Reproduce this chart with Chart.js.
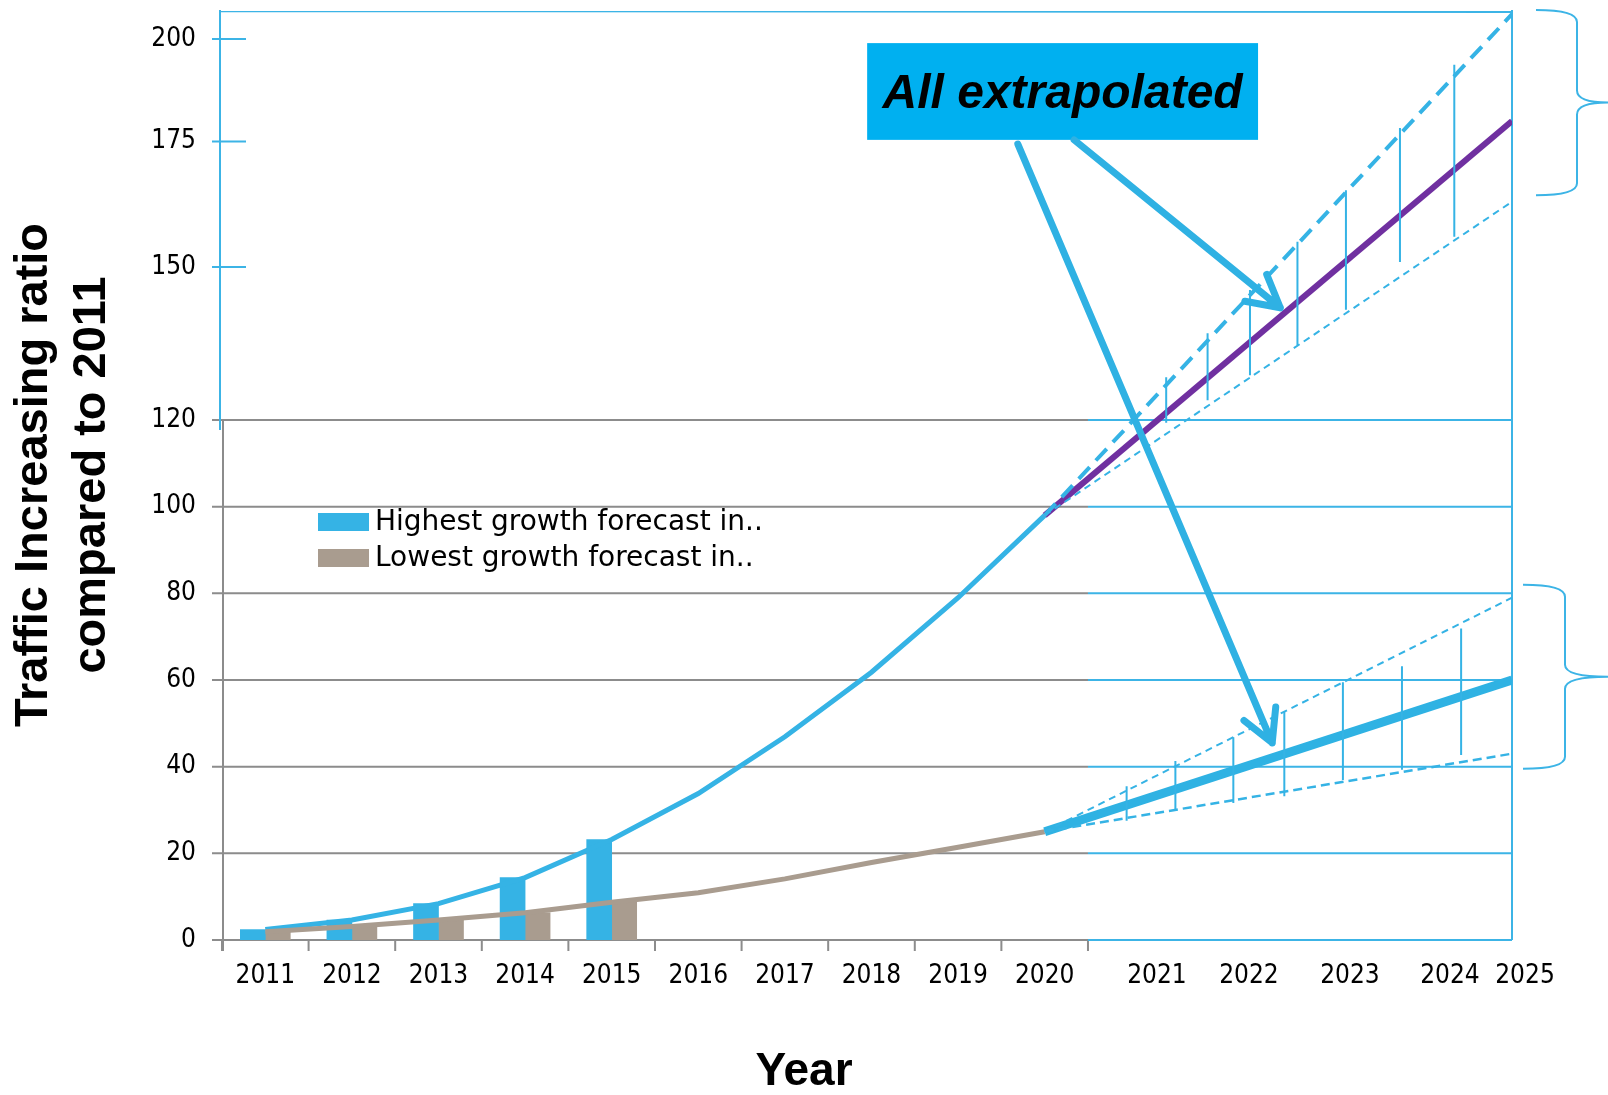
<!DOCTYPE html>
<html>
<head>
<meta charset="UTF-8">
<title>Traffic growth forecast</title>
<script src="https://cdn.jsdelivr.net/npm/chart.js"></script>
<style>
  html, body { margin: 0; padding: 0; background: #ffffff; }
</style>
</head>
<body>
<canvas id="traffic" width="1608" height="1095"></canvas>

<script>
  // measured years and the two forecast curves (ratio vs 2011)
  const years = [2011, 2012, 2013, 2014, 2015, 2016, 2017, 2018, 2019, 2020];
  const highest = [2.4, 4.6, 8.4, 14.4, 23.2, 33.8, 46.9, 61.8, 79, 98];
  const lowest = [1.9, 3.1, 4.6, 6.3, 8.7, 10.9, 14.1, 17.9, 21.4, 25];
  const barYears = [2011, 2012, 2013, 2014, 2015];

  // extrapolation to 2025: upper, central, lower
  const endYear = 2025;
  const highFan = [206, 180, 163];
  const lowFan = [79, 60, 43];

  // hand drawn spread markers inside the fans
  const highMarkX = [2021.1, 2021.55, 2022.01, 2022.48, 2022.96, 2023.5, 2024.07];
  const highMarkTop = [128.4, 137, 145.5, 155, 165.3, 178.3, 193.7];
  const highMarkBottom = [119.4, 123.9, 128.8, 134.7, 141.6, 151, 156];
  const lowMarkX = [2020.78, 2021.2, 2021.83, 2022.35, 2022.93, 2023.52, 2024.18];
  const lowMarkTop = [35.5, 41.3, 46.8, 52.6, 59.5, 63.2, 71.9];
  const lowMarkBottom = [27.5, 29.8, 31.6, 33.2, 36.9, 39.3, 42.7];

  const xTicks = [2011, 2012, 2013, 2014, 2015, 2016, 2017, 2018, 2019, 2020, 2021, 2022, 2023, 2024, 2025];
  const yTicks = [0, 20, 40, 60, 80, 100, 120, 150, 175, 200];

  // callout and arrows, in axis units
  const calloutX = [2017.95, 2022.09];
  const calloutY = [199, 175.4];
  const arrowFrom = [[2020.34, 175.4], [2019.69, 174.5]];
  const arrowTo = [[2022.31, 142], [2022.23, 45.5]];
  const braceSpans = [[207, 164.3], [82, 39.5]];

  const blue = '#35b3e5';
  const frameBlue = '#3cb4e6';
  const brown = '#a99c8f';
  const purple = '#7030a0';
  const gridGrey = '#8c8c8c';
  const tickFont = "'DejaVu Sans Condensed', 'DejaVu Sans', sans-serif";
  const boldFont = "'Liberation Sans', Arial, sans-serif";

  // the axes are stretched by hand in places, so both use piecewise-linear mapping
  const axisKnots = {
    x: [[2010.5, 0], [2020.5, 0.6713], [2021, 0.7248], [2022, 0.7961], [2023, 0.8744], [2024, 0.9519], [2025, 1]],
    y: [[0, 0], [120, 0.5591], [150, 0.7237], [175, 0.8586], [200, 0.9688], [207, 1]]
  };
  // the last year label sits just outside the frame
  const labelNudge = { x: { 2025: 13 } };

  function lerpKnots(knots, v, from, to) {
    let i = 1;
    while (i < knots.length - 1 && v > knots[i][from]) i++;
    const a = knots[i - 1], b = knots[i];
    return a[to] + (v - a[from]) / (b[from] - a[from]) * (b[to] - a[to]);
  }

  class PiecewiseScale extends Chart.LinearScale {
    getPixelForValue(value) {
      if (value === null || value === undefined || isNaN(value)) return NaN;
      return this.getPixelForDecimal(lerpKnots(axisKnots[this.id], value, 0, 1));
    }
    getValueForPixel(pixel) {
      return lerpKnots(axisKnots[this.id], this.getDecimalForPixel(pixel), 1, 0);
    }
    _computeLabelItems(chartArea) {
      const items = super._computeLabelItems(chartArea);
      const nudge = labelNudge[this.id] || {};
      items.forEach((item, i) => {
        const shift = this.ticks[i] && nudge[this.ticks[i].value];
        if (shift) item.options.translation[0] += shift;
      });
      return items;
    }
  }
  PiecewiseScale.id = 'piecewise';
  PiecewiseScale.defaults = {};
  Chart.register(PiecewiseScale);

  const lastYear = years[years.length - 1];
  const pts = (xs, ys) => xs.map((x, i) => ({ x, y: ys[i] }));
  const fan = (start, end) => [{ x: lastYear, y: start }, { x: endYear, y: end }];
  const marks = (xs, tops, bottoms) => xs.flatMap((x, i) => [{ x, y: bottoms[i] }, { x, y: tops[i] }, { x, y: null }]);

  const line = (label, data, color, width, dash, order) => ({
    type: 'line', label, data, order,
    borderColor: color, borderWidth: width, borderDash: dash || [],
    pointRadius: 0, tension: 0, fill: false
  });

  // grid, axis lines and the blue hand-drawn frame
  const framePlugin = {
    id: 'frame',
    beforeDatasetsDraw(chart) {
      const { ctx, chartArea: a, scales: { x, y } } = chart;
      const split = x.getPixelForValue(2020.5);
      const lowTicks = yTicks.filter(v => v <= 120);
      ctx.save();
      ctx.lineWidth = 2;

      ctx.strokeStyle = gridGrey;
      ctx.beginPath();
      lowTicks.forEach(v => {
        const py = y.getPixelForValue(v);
        ctx.moveTo(a.left - 10, py);
        ctx.lineTo(split, py);
      });
      for (let yr = 2010.5; yr <= 2020.5; yr++) {
        const px = x.getPixelForValue(yr);
        ctx.moveTo(px, a.bottom);
        ctx.lineTo(px, a.bottom + 11);
      }
      ctx.moveTo(a.left + 1, y.getPixelForValue(120));
      ctx.lineTo(a.left + 1, a.bottom + 11);
      ctx.stroke();

      ctx.strokeStyle = frameBlue;
      ctx.beginPath();
      lowTicks.forEach(v => {
        const py = y.getPixelForValue(v);
        ctx.moveTo(split, py);
        ctx.lineTo(a.right, py);
      });
      yTicks.filter(v => v > 120).forEach(v => {
        const py = y.getPixelForValue(v);
        ctx.moveTo(a.left - 10, py);
        ctx.lineTo(a.left + 24, py);
      });
      ctx.moveTo(a.left - 2, y.getPixelForValue(120) + 10);
      ctx.lineTo(a.left - 2, a.top);
      ctx.moveTo(a.left - 2, a.top + 1);
      ctx.lineTo(a.right, a.top + 2);
      ctx.moveTo(a.right, a.top);
      ctx.lineTo(a.right, a.bottom);
      ctx.stroke();
      ctx.restore();
    }
  };

  function drawArrow(ctx, x0, y0, x1, y1) {
    const ang = Math.atan2(y1 - y0, x1 - x0);
    ctx.beginPath();
    ctx.moveTo(x0, y0);
    ctx.lineTo(x1, y1);
    [-0.5, 0.5].forEach(d => {
      ctx.moveTo(x1, y1);
      ctx.lineTo(x1 - 36 * Math.cos(ang + d), y1 - 36 * Math.sin(ang + d));
    });
    ctx.stroke();
  }

  function drawBrace(ctx, x0, x1, tip, top, bottom) {
    const mid = (top + bottom) / 2, r = 12;
    ctx.beginPath();
    ctx.moveTo(x0, top);
    ctx.quadraticCurveTo(x1, top, x1, top + r);
    ctx.lineTo(x1, mid - r);
    ctx.quadraticCurveTo(x1, mid, tip, mid);
    ctx.moveTo(tip, mid);
    ctx.quadraticCurveTo(x1, mid, x1, mid + r);
    ctx.lineTo(x1, bottom - r);
    ctx.quadraticCurveTo(x1, bottom, x0, bottom);
    ctx.stroke();
  }

  // callout, arrows, braces and the legend box
  const notesPlugin = {
    id: 'notes',
    afterDatasetsDraw(chart) {
      const { ctx, chartArea: a, scales: { x, y } } = chart;
      ctx.save();

      const bx0 = x.getPixelForValue(calloutX[0]), bx1 = x.getPixelForValue(calloutX[1]);
      const by0 = y.getPixelForValue(calloutY[0]), by1 = y.getPixelForValue(calloutY[1]);
      ctx.fillStyle = '#00b0f0';
      ctx.fillRect(bx0, by0, bx1 - bx0, by1 - by0);
      ctx.fillStyle = '#000';
      ctx.font = `italic bold 48px ${boldFont}`;
      ctx.textAlign = 'center';
      ctx.textBaseline = 'middle';
      ctx.fillText('All extrapolated', (bx0 + bx1) / 2, (by0 + by1) / 2 + 3);

      ctx.strokeStyle = '#2fb1e3';
      ctx.lineWidth = 7;
      ctx.lineCap = 'round';
      ctx.lineJoin = 'round';
      arrowFrom.forEach((f, i) => {
        drawArrow(ctx, x.getPixelForValue(f[0]), y.getPixelForValue(f[1]),
          x.getPixelForValue(arrowTo[i][0]), y.getPixelForValue(arrowTo[i][1]));
      });

      ctx.strokeStyle = frameBlue;
      ctx.lineWidth = 2;
      ctx.lineCap = 'butt';
      drawBrace(ctx, a.right + 24, a.right + 65, a.right + 96,
        y.getPixelForValue(braceSpans[0][0]), y.getPixelForValue(braceSpans[0][1]));
      drawBrace(ctx, a.right + 11, a.right + 53, a.right + 96,
        y.getPixelForValue(braceSpans[1][0]), y.getPixelForValue(braceSpans[1][1]));

      ctx.textAlign = 'left';
      ctx.font = "28px 'DejaVu Sans', sans-serif";
      chart.data.datasets.filter(d => d.type === 'bar').forEach((d, i) => {
        const top = a.top + 503 + i * 36;
        ctx.fillStyle = d.backgroundColor;
        ctx.fillRect(a.left + 96, top, 51, 18);
        ctx.fillStyle = '#000';
        ctx.fillText(d.label, a.left + 153, top + 10);
      });
      ctx.restore();
    }
  };

  new Chart(document.getElementById('traffic'), {
    type: 'line',
    data: {
      datasets: [
        line('High spread', marks(highMarkX, highMarkTop, highMarkBottom), blue, 2, null, 1),
        line('Low spread', marks(lowMarkX, lowMarkTop, lowMarkBottom), blue, 2, null, 1),
        line('High lower bound', fan(highest[highest.length - 1], highFan[2]), blue, 2, [7, 5], 2),
        line('Low upper bound', fan(lowest[lowest.length - 1], lowFan[0]), blue, 2, [7, 5], 2),
        line('Low lower bound', fan(lowest[lowest.length - 1], lowFan[2]), blue, 2.5, [9, 5], 2),
        line('High upper bound', fan(highest[highest.length - 1], highFan[0]), blue, 4, [16, 9], 3),
        line('High extrapolation', fan(highest[highest.length - 1], highFan[1]), purple, 6, null, 4),
        line('Low extrapolation', fan(lowest[lowest.length - 1], lowFan[1]), '#2fb2e3', 9, null, 4),
        line('Lowest trend', pts(years, lowest), brown, 5, null, 6),
        line('Highest trend', pts(years, highest), blue, 5, null, 7),
        {
          type: 'bar', label: 'Highest growth forecast in..', order: 9,
          data: barYears.map(yr => ({ x: yr, y: highest[years.indexOf(yr)] })),
          backgroundColor: blue, borderWidth: 0, barThickness: 25
        },
        {
          type: 'bar', label: 'Lowest growth forecast in..', order: 9,
          data: barYears.map(yr => ({ x: yr, y: lowest[years.indexOf(yr)] })),
          backgroundColor: brown, borderWidth: 0, barThickness: 25
        }
      ]
    },
    options: {
      responsive: false,
      animation: false,
      events: [],
      layout: { padding: { left: 0, right: 0, top: 10, bottom: 0 } },
      plugins: {
        legend: { display: false },
        tooltip: { enabled: false },
        title: {
          display: true, position: 'bottom', text: 'Year', color: '#000',
          font: { family: boldFont, size: 46, weight: 'bold', lineHeight: 1 },
          padding: 0
        }
      },
      scales: {
        x: {
          type: 'piecewise', position: 'bottom', min: 2010.5, max: 2025, bounds: 'data', offset: false,
          grid: { display: false, drawTicks: false },
          border: { display: false },
          ticks: {
            autoSkip: false, maxRotation: 0, padding: 21, color: '#000',
            font: { family: tickFont, size: 26 },
            callback: v => String(v)
          },
          afterBuildTicks: s => { s.ticks = xTicks.map(v => ({ value: v })); },
          afterFit: s => { s.height = 109; s.paddingLeft = 0; s.paddingRight = 0; }
        },
        y: {
          type: 'piecewise', position: 'left', min: 0, max: 207, bounds: 'data',
          grid: { display: false, drawTicks: false },
          border: { display: false },
          ticks: {
            padding: 26, color: '#000',
            font: { family: tickFont, size: 26 },
            callback: v => String(v)
          },
          title: {
            display: true, color: '#000',
            text: ['Traffic Increasing ratio', 'compared to 2011'],
            font: { family: boldFont, size: 47, weight: 'bold', lineHeight: 1.24 },
            padding: { top: 5, bottom: 0 }
          },
          afterBuildTicks: s => { s.ticks = yTicks.map(v => ({ value: v })); },
          afterFit: s => { s.width = 222; s.paddingTop = 0; s.paddingBottom = 0; }
        },
        // empty strip on the right that holds the braces
        side: {
          type: 'linear', position: 'right', display: true,
          grid: { display: false, drawTicks: false },
          border: { display: false },
          ticks: { display: false },
          afterFit: s => { s.width = 96; s.paddingTop = 0; s.paddingBottom = 0; }
        }
      }
    },
    plugins: [framePlugin, notesPlugin]
  });
</script>
</body>
</html>
